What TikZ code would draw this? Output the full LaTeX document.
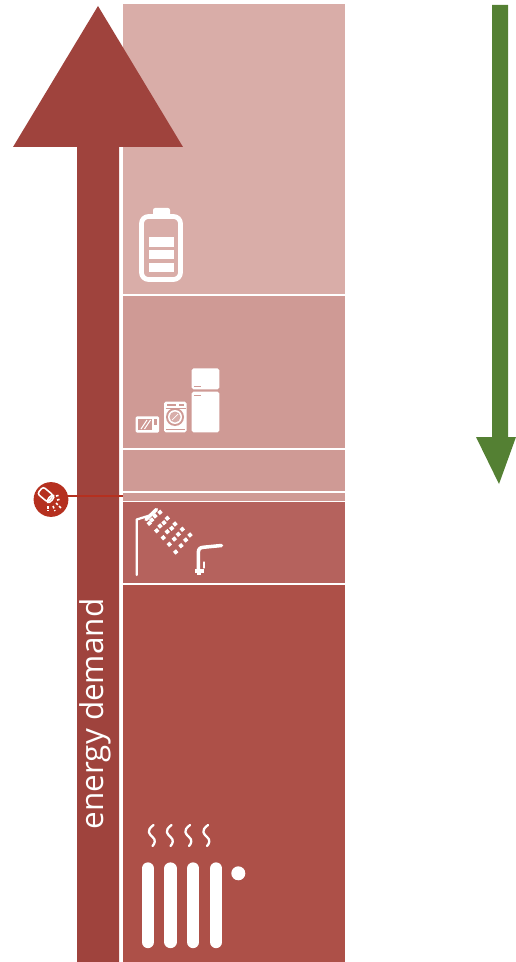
\documentclass[tikz,border=0pt]{standalone}
\usepackage{fontspec}
\setmainfont{Open Sans}
\definecolor{bandA}{HTML}{D9ADA8}
\definecolor{bandB}{HTML}{CF9A95}
\definecolor{bandC}{HTML}{B5625D}
\definecolor{bandD}{HTML}{AD5048}
\definecolor{arrowred}{HTML}{9F433D}
\definecolor{leafgreen}{HTML}{548033}
\definecolor{markred}{HTML}{B5301F}
\tikzset{
  x=0.02cm,y=-0.02cm,
  band/.style={fill=#1,draw=none},
  icon/.style={fill=white,draw=none},
  iconline/.style={draw=white,line cap=round,line join=round,fill=none},
  sep/.style={draw=white,line width=1.1pt},
  drop/.style={fill=white,draw=none,minimum size=2.2pt,inner sep=0pt,rotate=40,shape=rectangle}
}
\begin{document}
\begin{tikzpicture}
\useasboundingbox (0,0) rectangle (516,962);
% bands
\fill[band=bandA] (123,4) rectangle (344.5,294);
\fill[band=bandB] (123,294) rectangle (344.5,501);
\fill[band=bandC] (123,501) rectangle (344.5,584);
\fill[band=bandD] (123,584) rectangle (344.5,962);
\draw[sep] (121,295) -- (344.5,295);
\draw[sep] (121,449) -- (344.5,449);
\draw[sep] (121,492.3) -- (344.5,492.3);
\draw[sep] (121,501.5) -- (344.5,501.5);
\draw[sep] (121,584.3) -- (344.5,584.3);
\draw[white,line width=1.6pt] (121,148) -- (121,962);
% demand arrow
\fill[arrowred] (77,962) -- (77,147) -- (13,147) -- (98,6) -- (183,147) -- (119,147) -- (119,962) -- cycle;
\node[rotate=90,text=white,font=\fontsize{17.9}{21}\selectfont,inner sep=0pt] (lbl) at (95,714) {energy demand};
% green arrow
\fill[leafgreen] (492,5) -- (508,5) -- (508,437) -- (516,437) -- (499,484) -- (476,437) -- (492,437) -- cycle;
% battery
\fill[icon,rounded corners=1.2pt] (153,208) rectangle (170,216);
\draw[white,line width=2.7pt,rounded corners=4pt] (141.5,216.5) rectangle (180.5,279.5);
\fill[icon] (148.5,237.5) rectangle (174,246.7);
\fill[icon] (148.5,250) rectangle (174,259.5);
\fill[icon] (148.5,263) rectangle (174,272);
% fridge
\fill[icon,rounded corners=1pt] (191.7,368.3) rectangle (219.3,389.3);
\fill[icon,rounded corners=1pt] (191.7,391.7) rectangle (219.3,432.3);
\fill[bandB] (194,386.2) rectangle (201,387.2);
\fill[bandB] (194,394.5) rectangle (201,395.5);
% washing machine
\fill[icon,rounded corners=1pt] (164,401.7) rectangle (186.7,432.3);
\fill[bandB] (167,404) rectangle (176,406);
\fill[bandB] (179,404) rectangle (184,406);
\draw[bandB,line width=0.4pt] (165.5,408) -- (185.5,408);
\fill[bandB] (175,417) circle (9);
\fill[white] (175,417) circle (7);
\fill[bandB!80!white] (175,417) circle (5.5);
\draw[white,line width=0.4pt] (172,420) -- (178,414);
\draw[bandB,line width=0.5pt] (166,429) -- (185,429);
% microwave
\fill[icon,rounded corners=0.8pt] (135.7,416.3) rectangle (159,432.7);
\fill[bandB] (138.3,419) rectangle (151.7,430);
\draw[white,line width=0.6pt] (141,429) -- (147,420) (144.5,429) -- (150.5,420);
\fill[bandB] (153.5,419) rectangle (157,425);
% marker
\node[circle,fill=markred,draw=none,minimum size=19.8pt,inner sep=0pt] (mk) at (51,499.5) {};
\coordinate (mkend) at (122.7,495.7);
\draw[markred,line width=1.3pt] (mk.center |- mkend) -- (mkend);
\begin{scope}[shift={(46,495)},rotate=-40]
  \draw[white,line width=0.9pt,rounded corners=1.5pt] (-7.5,-4.5) rectangle (6,4.5);
  \draw[white,line width=0.9pt] (6,0) ellipse (2 and 4.5);
\end{scope}
\foreach \xa/\ya/\xb/\yb in {56/496/60/495, 57/500/61/499, 56/503/61/508, 53/506/55/511, 48/506/48/511}{
  \draw[white,line width=0.9pt,dash pattern=on 1.5pt off 1pt] (\xa,\ya) -- (\xb,\yb);
}
% shower
\draw[iconline,line width=1.3pt] (136.7,575) -- (136.7,519.5) -- (148,516);
\draw[iconline,line width=2pt] (146,519.5) -- (156.5,509.5);
\foreach \p in {
  (160,512.3),(167.3,518.3),(175,524),(182.3,529.3),(190,535),
  (155,516),(164,522.7),(171.7,528.3),(178.3,534.3),(185.7,540),
  (151.7,520),(160,526),(167.3,531.7),(174.3,539),(181,545.7),
  (149.3,523.3),(156.7,530.7),(163.3,537.7),(169.3,544.3),(175.7,552)}{
  \node[drop] at \p {};
}
% tap
\draw[iconline,line width=2pt] (198.3,570) -- (198.3,553) .. controls (198.3,548.5) and (200,547.5) .. (204,547.2) -- (221.5,545.5);
\draw[iconline,line width=0.7pt] (204,562) -- (204,568);
\fill[icon] (194.5,568.5) rectangle (204,572.5);
\fill[icon] (197,572) rectangle (201,575);
% radiator
\foreach \xx in {147.8,170.5,193.2,216.2}{
  \draw[white,line width=7pt,line cap=round] (\xx,868.5) -- (\xx,942);
}
\fill[white] (238.3,873.3) circle (7);
\foreach \xx in {153.5,171.5,190,208}{
  \draw[iconline,line width=1.3pt] (\xx,825) .. controls (\xx-8,831) and (\xx-4,834) .. (\xx-1,837) .. controls (\xx+3,840) and (\xx+1,844) .. (\xx-1,846);
}
\end{tikzpicture}
\end{document}
